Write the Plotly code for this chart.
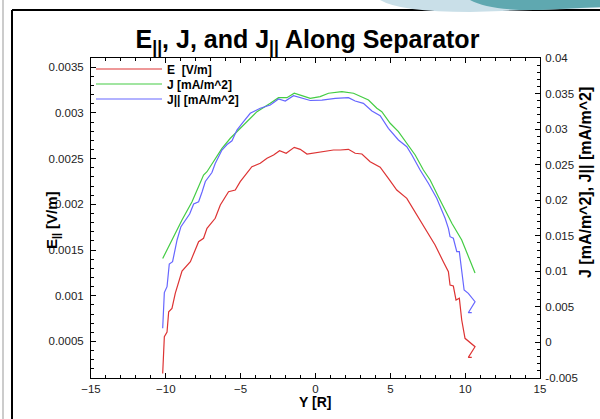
import plotly.graph_objects as go

# ---------------- data ----------------
y_e = [-10.21, -10.10, -9.92, -9.81, -9.59, -9.37, -8.92, -8.36, -7.81, -7.48, -7.25, -6.70,
       -6.36, -5.81, -5.36, -5.03, -4.25, -3.69, -3.24, -2.80, -2.40, -1.96, -1.42, -1.02,
       -0.57, 0.31, 1.20, 1.65, 2.20, 2.65, 3.10, 3.65, 4.32, 4.87, 5.43, 6.10, 6.77, 7.32,
       7.99, 8.54, 8.88, 8.99, 9.21, 9.39, 9.61, 9.77, 9.99, 10.66, 10.21, 10.44]
e_par = [0.000149, 0.000552, 0.000603, 0.000825, 0.000862, 0.001026, 0.00127, 0.001372,
         0.001591, 0.001628, 0.001737, 0.001847, 0.001992, 0.002138, 0.002156, 0.002247,
         0.002411, 0.002448, 0.002503, 0.002539, 0.002586, 0.002558, 0.002623, 0.002601,
         0.00255, 0.002569, 0.002594, 0.002594, 0.002601, 0.002558, 0.00255, 0.002466,
         0.002405, 0.002284, 0.002156, 0.002065, 0.001883, 0.001737, 0.001555, 0.001372,
         0.001263, 0.001117, 0.001106, 0.000953, 0.000972, 0.000734, 0.000534, 0.000442,
         0.000326, 0.000326]

y_j = [-10.21, -9.48, -8.92, -8.25, -7.92, -7.48, -7.25, -6.58, -6.25, -5.69, -4.81, -3.91,
       -3.02, -2.47, -1.91, -1.42, -0.91, -0.35, 0.31, 0.87, 1.76, 2.54, 3.54, 4.10, 4.43,
       4.99, 5.54, 6.10, 6.66, 7.21, 7.66, 8.21, 8.77, 9.11, 9.77, 10.66]
j_tot = [0.0118, 0.01487, 0.01722, 0.01979, 0.02144, 0.02355, 0.02401, 0.02612, 0.0273,
         0.02871, 0.03058, 0.03245, 0.03363, 0.03442, 0.03442, 0.03504, 0.0347, 0.03433,
         0.03456, 0.03504, 0.03526, 0.03504, 0.03409, 0.03293, 0.03245, 0.03082, 0.02964,
         0.028, 0.02636, 0.02425, 0.02284, 0.0205, 0.01816, 0.01675, 0.01441, 0.00977]

y_jp = [-10.21, -10.10, -9.92, -9.77, -9.55, -9.25, -8.99, -8.70, -8.41, -8.14, -7.81, -7.58,
        -7.36, -6.92, -6.70, -6.25, -5.91, -5.58, -5.25, -4.81, -4.36, -3.69, -3.02, -2.47,
        -2.02, -1.47, -0.91, -0.35, 0.43, 1.32, 2.20, 2.65, 3.20, 3.77, 4.32, 4.87, 5.54,
        6.10, 6.44, 6.99, 7.54, 8.10, 8.66, 8.88, 8.99, 9.21, 9.44, 9.61, 9.93, 10.21,
        10.66, 10.21, 10.44]
j_par = [0.00199, 0.00702, 0.00784, 0.01103, 0.01135, 0.01441, 0.01628, 0.01722, 0.01806,
         0.01947, 0.01979, 0.02116, 0.02263, 0.0239, 0.02516, 0.02706, 0.02784, 0.02836,
         0.02987, 0.03104, 0.03222, 0.03293, 0.03339, 0.03423, 0.03395, 0.0347, 0.03433,
         0.03402, 0.03409, 0.03433, 0.03442, 0.03395, 0.03363, 0.03255, 0.03189, 0.03011,
         0.02847, 0.02753, 0.02636, 0.02425, 0.02238, 0.02027, 0.01746, 0.01605, 0.01487,
         0.01465, 0.01276, 0.01276, 0.00737, 0.00691, 0.00573, 0.00418, 0.00418]

x_ticks = [-15, -10, -5, 0, 5, 10, 15]
left_ticks = [0.0005, 0.001, 0.0015, 0.002, 0.0025, 0.003, 0.0035]
left_labels = ["0.0005", "0.001", "0.0015", "0.002", "0.0025", "0.003", "0.0035"]
right_ticks = [-0.005, 0, 0.005, 0.01, 0.015, 0.02, 0.025, 0.03, 0.035, 0.04]
right_labels = ["-0.005", "0", "0.005", "0.01", "0.015", "0.02", "0.025", "0.03", "0.035", "0.04"]

# ---------------- figure ----------------
FONT = "Liberation Sans, Arial, sans-serif"
L, R, T, B = 91, 60, 58, 41
W, H = 600, 419
pw, ph = W - L - R, H - T - B


def px(x):
    return (x - L) / pw


def py(y):
    return (H - B - y) / ph


fig = go.Figure()
fig.add_trace(go.Scatter(x=y_e, y=e_par, mode="lines", name="E  [V/m]", legend="legend",
                         line=dict(color="#dd3333", width=1.2)))
fig.add_trace(go.Scatter(x=y_j, y=j_tot, mode="lines", name="J [mA/m^2]", yaxis="y2",
                         legend="legend2", line=dict(color="#44cc44", width=1.2)))
fig.add_trace(go.Scatter(x=y_jp, y=j_par, mode="lines", name="J|| [mA/m^2]", yaxis="y2",
                         legend="legend3", line=dict(color="#6666ff", width=1.2)))

axis_common = dict(showline=True, linecolor="black", linewidth=1, ticks="inside",
                   tickcolor="black", ticklen=5, showgrid=False, zeroline=False,
                   tickfont=dict(family=FONT, size=11.5, color="#222222"))


def leg(yc):
    return dict(x=0.0, y=py(yc), xanchor="left", yanchor="middle", bgcolor="rgba(0,0,0,0)",
                font=dict(family=FONT, size=12, color="black", weight="bold"),
                itemwidth=66, borderwidth=0)


fig.update_layout(
    width=W, height=H,
    margin=dict(l=L, r=R, t=T, b=B),
    paper_bgcolor="white", plot_bgcolor="white",
    showlegend=True,
    legend=leg(69), legend2=leg(84), legend3=leg(99),
    title=dict(text="E<sub>||</sub>, J, and J<sub>||</sub> Along Separator",
               x=(307.5) / W, xanchor="center", y=1 - 39 / H, yanchor="middle",
               font=dict(family=FONT, size=25, color="black", weight="bold")),
    xaxis=dict(range=[-15, 15], tickvals=x_ticks, mirror="ticks",
               minor=dict(ticks="inside", dtick=1, ticklen=3, tickcolor="black"),
               **axis_common),
    yaxis=dict(range=[0.0001, 0.0036], tickvals=left_ticks, ticktext=left_labels,
               ticklabelstandoff=4,
               minor=dict(ticks="inside", dtick=0.0001, ticklen=3, tickcolor="black"),
               **axis_common),
    yaxis2=dict(range=[-0.005, 0.04], tickvals=right_ticks, ticktext=right_labels,
                overlaying="y", side="right", ticklabelstandoff=2,
                minor=dict(ticks="inside", dtick=0.001, ticklen=3, tickcolor="black"),
                **axis_common),
)

annos = [
    dict(text="Y [R]", x=px(315), y=py(402), xanchor="center", yanchor="middle",
         font=dict(family=FONT, size=14, color="black", weight="bold")),
    dict(text="E<sub>||</sub> [V/m]", x=px(52), y=py(220), textangle=-90,
         xanchor="center", yanchor="middle",
         font=dict(family=FONT, size=15, color="black", weight="bold")),
    dict(text="J [mA/m^2], J|| [mA/m^2]", x=px(585), y=py(183), textangle=-90,
         xanchor="center", yanchor="middle",
         font=dict(family=FONT, size=16, color="black", weight="bold")),
]
for a in annos:
    a.update(xref="paper", yref="paper", showarrow=False)
fig.update_layout(annotations=annos)

# slide frame decorations
shapes = [
    dict(type="line", x0=px(3), x1=px(3), y0=py(0), y1=py(419), line=dict(color="#999999", width=1)),
    dict(type="line", x0=px(12), x1=px(12), y0=py(10), y1=py(419), line=dict(color="black", width=2)),
    dict(type="line", x0=px(12), x1=px(600), y0=py(10), y1=py(10), line=dict(color="black", width=2)),
    dict(type="path",
         path=f"M {px(380)},{py(0)} Q {px(400)},{py(12)} {px(470)},{py(12)} L {px(600)},{py(8)} L {px(600)},{py(0)} Z",
         fillcolor="#c9dfe8", line=dict(width=0)),
    dict(type="path",
         path=f"M {px(470)},{py(0)} Q {px(490)},{py(11)} {px(540)},{py(10)} L {px(600)},{py(7)} L {px(600)},{py(0)} Z",
         fillcolor="#5fa8b0", line=dict(width=0)),
]
for s in shapes:
    s.update(xref="paper", yref="paper", layer="above")
fig.update_layout(shapes=shapes)

fig.write_html("out.html", config={"displayModeBar": False},
               post_script="document.body.style.margin='0';document.body.style.overflow='hidden';")
